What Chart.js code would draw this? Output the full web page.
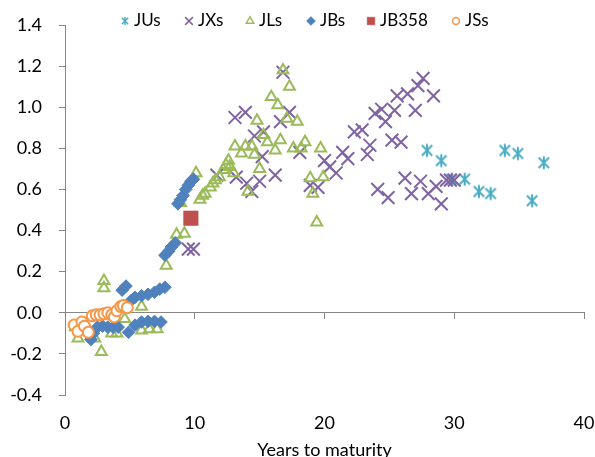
<!DOCTYPE html>
<html><head><meta charset="utf-8">
<script src="https://cdn.jsdelivr.net/npm/chart.js@4"></script>
<style>html,body{margin:0;padding:0;background:#fff}</style>
</head><body>
<canvas id="c" width="595" height="457" style="display:block;width:595px;height:457px"></canvas>
<script>
// ---- data ----
const seriesNames = ['JUs', 'JXs', 'JLs', 'JBs', 'JB358', 'JSs'];
const xTicks = [0, 10, 20, 30, 40];
const yTicks = [-0.4, -0.2, 0.0, 0.2, 0.4, 0.6, 0.8, 1.0, 1.2, 1.4];
const xTitle = 'Years to maturity';

const JUs = [[27.9,0.79],[29.0,0.74],[29.8,0.65],[30.8,0.65],[31.9,0.59],[32.8,0.58],[33.9,0.79],[34.9,0.775],[36.0,0.545],[36.9,0.73]];
const JXs = [[9.5,0.31],[9.9,0.31],[11.7,0.67],[13.1,0.95],[13.9,0.975],[13.2,0.66],[14.0,0.63],[14.4,0.59],[15.0,0.64],[14.6,0.86],[15.2,0.76],[15.3,0.88],[16.2,0.67],[16.6,0.93],[16.8,1.17],[17.3,0.975],[18.1,0.78],[18.9,0.62],[19.5,0.61],[20.0,0.74],[20.4,0.71],[20.9,0.68],[21.4,0.78],[21.8,0.75],[22.3,0.88],[22.9,0.89],[23.3,0.77],[23.5,0.815],[23.9,0.97],[24.1,0.6],[24.4,0.99],[24.7,0.93],[24.9,0.56],[25.2,0.84],[25.4,0.985],[25.6,1.055],[25.9,0.83],[26.2,0.655],[26.4,1.065],[26.7,0.58],[27.0,0.985],[27.2,1.105],[27.4,0.64],[27.6,1.14],[28.0,0.58],[28.4,1.055],[28.6,0.615],[29.0,0.53],[29.4,0.645],[29.7,0.645],[30.0,0.645]];
const JLs = [[0.8,-0.07],[1.0,-0.125],[2.3,-0.125],[2.8,-0.19],[3.0,0.155],[3.0,0.12],[3.6,-0.1],[4.0,-0.1],[4.6,-0.03],[5.9,0.03],[5.9,-0.085],[6.5,-0.08],[7.1,-0.08],[7.8,0.23],[8.6,0.38],[8.9,0.535],[9.2,0.385],[10.1,0.68],[10.4,0.55],[10.6,0.57],[10.8,0.58],[11.2,0.61],[11.4,0.63],[11.6,0.645],[11.9,0.66],[12.2,0.695],[12.4,0.72],[12.6,0.74],[12.7,0.71],[13.0,0.68],[13.1,0.81],[13.6,0.775],[13.9,0.81],[14.1,0.59],[14.4,0.81],[14.6,0.77],[14.8,0.935],[15.0,0.70],[15.3,0.865],[15.6,0.83],[15.9,1.05],[16.2,0.79],[16.4,1.01],[16.6,0.84],[16.8,1.18],[17.1,0.945],[17.3,1.10],[17.6,0.80],[17.9,0.93],[18.2,0.80],[18.5,0.83],[18.9,0.655],[19.1,0.58],[19.4,0.44],[19.7,0.80],[19.9,0.66]];
const JBs = [[2.0,-0.13],[2.2,-0.1],[2.5,-0.07],[2.9,-0.065],[3.3,-0.07],[3.7,-0.07],[4.1,-0.07],[4.4,0.11],[4.7,0.13],[4.9,-0.095],[5.1,0.06],[5.4,0.075],[5.4,-0.06],[5.9,0.083],[5.9,-0.045],[6.4,0.09],[6.4,-0.042],[6.9,0.1],[6.9,-0.042],[7.3,0.115],[7.4,-0.045],[7.7,0.124],[7.7,0.28],[8.0,0.3],[8.2,0.32],[8.5,0.34],[8.7,0.53],[8.9,0.55],[9.1,0.57],[9.3,0.6],[9.5,0.62],[9.7,0.64],[9.9,0.65]];
const JB358 = [[9.7,0.46]];
const JSs = [[0.7,-0.06],[1.0,-0.09],[1.3,-0.045],[1.5,-0.065],[1.8,-0.095],[2.1,-0.015],[2.4,-0.01],[2.7,-0.01],[3.0,-0.005],[3.3,0.0],[3.6,-0.01],[3.8,-0.02],[4.0,0.01],[4.3,0.03],[4.5,0.035],[4.8,0.025]];

// ---- styling ----
const FONT = 'Lato';
const AXIS = '#868686';
const colors = ['#4BACC6', '#8064A2', '#9BBB59', '#4F81BD', '#C0504D', '#F79646'];

function asterisk(size, arm, color, lw) {
  const cv = document.createElement('canvas');
  cv.width = size; cv.height = size;
  const g = cv.getContext('2d');
  const c = size / 2;
  g.strokeStyle = color; g.lineWidth = lw; g.lineCap = 'butt';
  const d = arm * 0.8;
  g.beginPath();
  g.moveTo(c - d, c - d); g.lineTo(c + d, c + d);
  g.moveTo(c + d, c - d); g.lineTo(c - d, c + d);
  g.moveTo(c, c - arm); g.lineTo(c, c + arm);
  g.stroke();
  return cv;
}
const starBig = asterisk(16, 6.5, colors[0], 2);
const starSmall = asterisk(10, 4, colors[0], 1.5);

const toPts = arr => arr.map(p => ({x: p[0], y: p[1]}));
const seriesData = [JUs, JXs, JLs, JBs, JB358, JSs];
const styles = [
  {pointStyle: starBig, pointRadius: 6, pointBackgroundColor: colors[0], pointBorderColor: colors[0], pointBorderWidth: 0},
  {pointStyle: 'crossRot', pointRadius: 9, pointBackgroundColor: colors[1], pointBorderColor: colors[1], pointBorderWidth: 2},
  {pointStyle: 'triangle', pointRadius: 6.3, pointBackgroundColor: 'rgba(255,255,255,0)', pointBorderColor: colors[2], pointBorderWidth: 2},
  {pointStyle: 'rectRot', pointRadius: 6.3, pointBackgroundColor: colors[3], pointBorderColor: colors[3], pointBorderWidth: 1},
  {pointStyle: 'rect', pointRadius: 10.3, pointBackgroundColor: colors[4], pointBorderColor: colors[4], pointBorderWidth: 0.5},
  {pointStyle: 'circle', pointRadius: 5.5, pointBackgroundColor: '#ffffff', pointBorderColor: colors[5], pointBorderWidth: 2}
];
const legendMarks = [
  {pointStyle: starSmall, radius: 4, fill: colors[0], stroke: colors[0], bw: 0},
  {pointStyle: 'crossRot', radius: 5.5, fill: colors[1], stroke: colors[1], bw: 1.5},
  {pointStyle: 'triangle', radius: 4.3, fill: '#ffffff', stroke: colors[2], bw: 1.5},
  {pointStyle: 'rectRot', radius: 4.3, fill: colors[3], stroke: colors[3], bw: 1},
  {pointStyle: 'rect', radius: 5.4, fill: colors[4], stroke: colors[4], bw: 0.5},
  {pointStyle: 'circle', radius: 3.4, fill: '#ffffff', stroke: colors[5], bw: 1.5}
];
const legendX = [125, 189, 250, 311, 371, 456];

const datasets = seriesNames.map((n, i) => Object.assign({
  label: n,
  data: toPts(seriesData[i]),
  order: seriesNames.length - i,
  showLine: false,
  pointHoverRadius: styles[i].pointRadius
}, styles[i]));

const legendPlugin = {
  id: 'excelLegend',
  afterDraw(chart) {
    const ctx = chart.ctx;
    ctx.save();
    ctx.font = '17px ' + FONT;
    ctx.textBaseline = 'middle';
    ctx.textAlign = 'left';
    const y = 21;
    seriesNames.forEach((n, i) => {
      const m = legendMarks[i];
      const x = legendX[i];
      ctx.fillStyle = m.fill;
      ctx.strokeStyle = m.stroke;
      ctx.lineWidth = m.bw;
      Chart.helpers.drawPoint(ctx, {pointStyle: m.pointStyle, radius: m.radius, borderWidth: m.bw, rotation: 0}, x, y);
      ctx.fillStyle = '#000000';
      ctx.fillText(n, x + 9, y);
    });
    ctx.restore();
  }
};

new Chart(document.getElementById('c'), {
  type: 'scatter',
  data: {datasets},
  plugins: [legendPlugin],
  options: {
    responsive: false,
    animation: false,
    devicePixelRatio: 1,
    events: [],
    layout: {padding: {top: 25, right: 11, bottom: 0, left: 0}},
    plugins: {legend: {display: false}, tooltip: {enabled: false}},
    scales: {
      x: {
        type: 'linear', position: 'bottom', min: 0, max: 40,
        afterBuildTicks: s => { s.ticks = xTicks.map(v => ({value: v})); },
        afterFit: s => { s.height = 62; },
        grid: {display: true, drawOnChartArea: false, drawTicks: true, tickLength: 17, color: 'rgba(0,0,0,0)'},
        border: {display: false},
        ticks: {color: '#000', font: {family: FONT, size: 18}, padding: 0, maxRotation: 0},
        title: {display: true, text: xTitle, color: '#000', font: {family: FONT, size: 18}, padding: {top: 0, bottom: -4}}
      },
      x2: {
        type: 'linear', axis: 'x', position: {y: 0}, min: 0, max: 40,
        afterBuildTicks: s => { s.ticks = xTicks.map(v => ({value: v})); },
        ticks: {display: false},
        grid: {drawOnChartArea: false, drawTicks: true, tickLength: 6, color: AXIS, lineWidth: 1},
        border: {display: true, color: AXIS, width: 1}
      },
      y: {
        type: 'linear', position: 'left', min: -0.4, max: 1.4,
        afterBuildTicks: s => { s.ticks = yTicks.map(v => ({value: v})); },
        afterFit: s => { s.width = 65; },
        grid: {drawOnChartArea: false, drawTicks: true, tickLength: 6, color: AXIS, lineWidth: 1},
        border: {display: true, color: AXIS, width: 1},
        ticks: {color: '#000', font: {family: FONT, size: 18, lineHeight: 0.8}, padding: 17, callback: v => Number(v).toFixed(1)}
      }
    }
  }
});
</script>
</body></html>
